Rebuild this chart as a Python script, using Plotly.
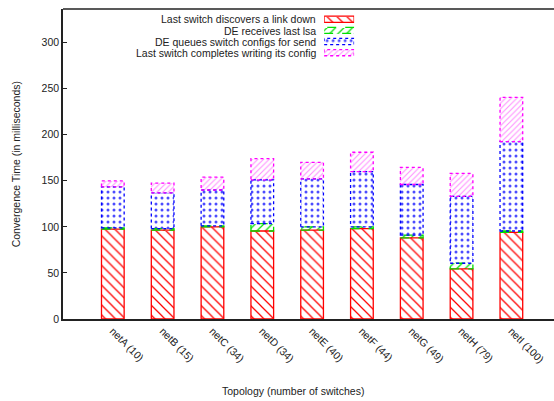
import plotly.graph_objects as go

# Convergence time broken down into four stacked phases per topology
topologies = ["netA (10)", "netB (15)", "netC (34)", "netD (34)", "netE (40)",
              "netF (44)", "netG (49)", "netH (79)", "netI (100)"]
link_down = [97.5, 96.5, 100, 95.5, 96.5, 98, 88, 54.5, 94]
last_lsa = [1.5, 1.5, 1, 8, 3.5, 2, 3, 6, 1.5]
queue_configs = [44.5, 39, 39, 47.5, 52, 60, 55, 72.5, 97]
write_config = [6.5, 10.5, 14, 23, 18, 21, 18.5, 25, 48]

series_names = ["Last switch discovers a link down", "DE receives last lsa",
                "DE queues switch configs for send",
                "Last switch completes writing its config"]
y_ticks = [0, 50, 100, 150, 200, 250, 300]

series = [link_down, last_lsa, queue_configs, write_config]
styles = [
    dict(color="#ff0000", shape="\\", size=7, solidity=0.18, fgopacity=1.0, dash="solid"),
    dict(color="#00e000", shape="/", size=6, solidity=0.2, fgopacity=1.0, dash="dash"),
    dict(color="#0000ff", shape=".", size=6, solidity=0.2, fgopacity=0.7, dash="dot"),
    dict(color="#ff00ff", shape="/", size=4, solidity=0.25, fgopacity=0.45, dash="dot"),
]

W, H = 554, 401
L, T, B = 62.7, 8.7, 82.3
plot_w = W - L
plot_h = H - T - B
bar_w = 0.455
FONT = "Liberation Sans, Arial, sans-serif"


def px_x(x):
    return (x - L) / plot_w


def px_y(y):
    return (H - B - y) / plot_h


fig = go.Figure()
shapes = []

# stacked bars
bases = [0.0] * len(topologies)
for vals, st, name in zip(series, styles, series_names):
    fig.add_trace(go.Bar(
        x=topologies, y=vals, base=bases, width=bar_w, name=name,
        showlegend=False,
        marker=dict(color="white", line=dict(width=0),
                    pattern=dict(shape=st["shape"], fgcolor=st["color"], bgcolor="white",
                                 size=st["size"], solidity=st["solidity"],
                                 fgopacity=st["fgopacity"], fillmode="overlay")),
    ))
    for i, (b0, v) in enumerate(zip(bases, vals)):
        shapes.append(dict(type="rect", xref="x", yref="y",
                           x0=i - bar_w / 2, x1=i + bar_w / 2, y0=b0, y1=b0 + v,
                           line=dict(color=st["color"], width=1.3, dash=st["dash"]),
                           fillcolor="rgba(0,0,0,0)", layer="above"))
    bases = [b0 + v for b0, v in zip(bases, vals)]

# key: swatches drawn on a small hidden axis pair
row_y = [19, 30.3, 41.3, 52.3]
sw_x0, sw_x1 = 324, 354
row_gap = row_y[1] - row_y[0]
for k, (st, name) in enumerate(zip(styles, series_names)):
    row = len(series_names) - 1 - k
    fig.add_trace(go.Bar(
        x=[1], y=[row], base=[0], orientation="h", width=0.55,
        xaxis="x2", yaxis="y2", showlegend=False, hoverinfo="skip",
        marker=dict(color="white", line=dict(width=0),
                    pattern=dict(shape=st["shape"], fgcolor=st["color"], bgcolor="white",
                                 size=st["size"], solidity=st["solidity"],
                                 fgopacity=st["fgopacity"], fillmode="overlay")),
    ))
    shapes.append(dict(type="rect", xref="x2", yref="y2", x0=0, x1=1,
                       y0=row - 0.275, y1=row + 0.275,
                       line=dict(color=st["color"], width=1.3, dash=st["dash"]),
                       fillcolor="rgba(0,0,0,0)", layer="above"))

annotations = []
for k, name in enumerate(series_names):
    annotations.append(dict(text=name, xref="paper", yref="paper",
                            x=px_x(318), y=px_y(row_y[k]), xanchor="right",
                            yanchor="middle", showarrow=False,
                            font=dict(family=FONT, size=10.5, color="#222")))

annotations.append(dict(text="Topology (number of switches)", xref="paper", yref="paper",
                        x=px_x(293), y=px_y(391), xanchor="center", yanchor="middle",
                        showarrow=False, font=dict(family=FONT, size=10.5, color="#222")))
annotations.append(dict(text="Convergence Time (in milliseconds)", xref="paper", yref="paper",
                        x=px_x(16), y=px_y(163.7), xanchor="center", yanchor="middle",
                        textangle=-90, showarrow=False,
                        font=dict(family=FONT, size=10.5, color="#222")))

# top border of the frame
shapes.append(dict(type="line", xref="paper", yref="paper", x0=0, x1=1, y0=1, y1=1,
                   line=dict(color="#222", width=1.5)))

row_lo = -0.5
row_hi = len(series_names) - 0.5
fig.update_layout(
    width=W, height=H,
    margin=dict(l=L, r=0, t=T, b=B, pad=0),
    paper_bgcolor="white", plot_bgcolor="white",
    barmode="overlay", bargap=0,
    font=dict(family=FONT, size=10.5, color="#222"),
    xaxis=dict(type="category", range=[-1, -1 + plot_w / 49.85], showgrid=False,
               showline=True, linecolor="#222", linewidth=1.8, ticks="",
               tickangle=45, tickfont=dict(family=FONT, size=10.5, color="#222"),
               zeroline=False, fixedrange=True),
    yaxis=dict(range=[0, plot_h / 0.9213], tickvals=y_ticks, showgrid=False,
               showline=True, linecolor="#222", linewidth=1.5, ticks="inside",
               ticklen=4, tickcolor="#222", zeroline=False,
               tickfont=dict(family=FONT, size=10.5, color="#222")),
    xaxis2=dict(domain=[px_x(sw_x0), px_x(sw_x1)], range=[0, 1], visible=False,
                anchor="y2", fixedrange=True),
    yaxis2=dict(domain=[px_y(row_y[-1] + row_gap / 2), px_y(row_y[0] - row_gap / 2)],
                range=[row_lo, row_hi], visible=False, anchor="x2", fixedrange=True),
    shapes=shapes,
    annotations=annotations,
)

fig.write_html("out.html")
